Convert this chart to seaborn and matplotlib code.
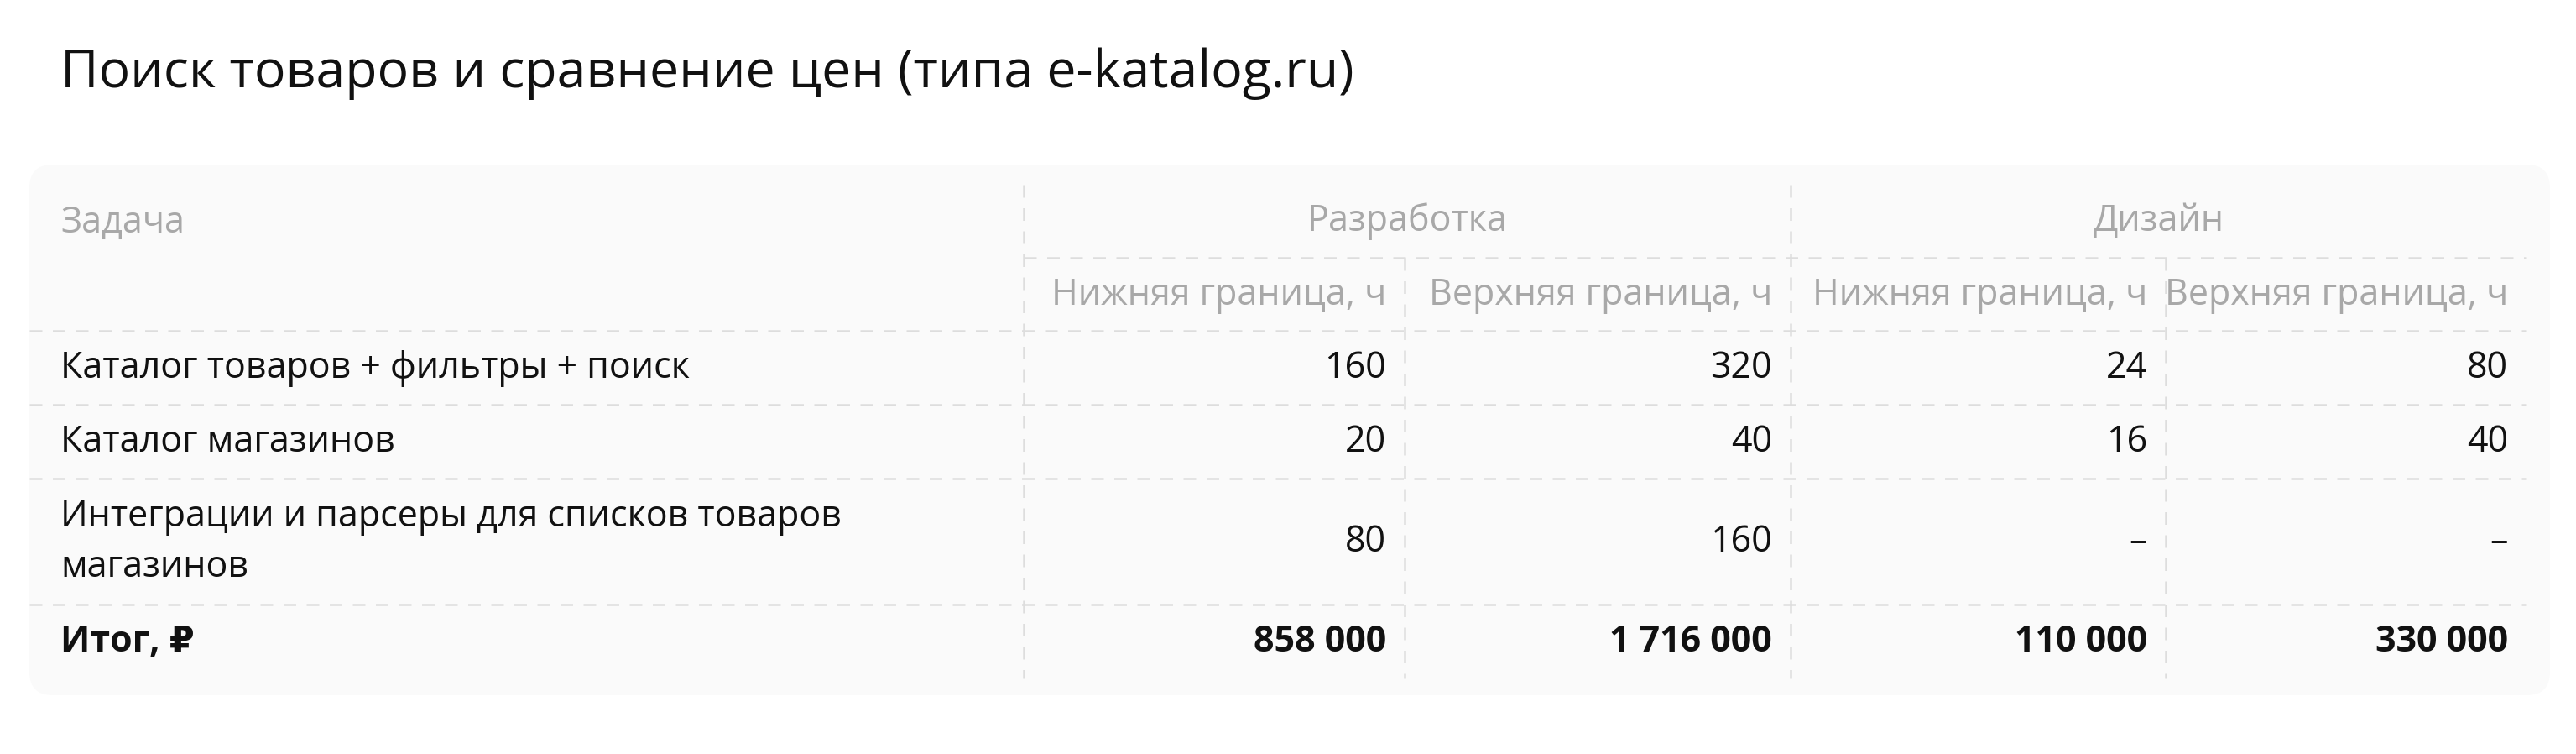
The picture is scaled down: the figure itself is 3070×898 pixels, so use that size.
import matplotlib
matplotlib.use("Agg")
import matplotlib.pyplot as plt
from matplotlib.patches import FancyBboxPatch
import seaborn as sns

title = "Поиск товаров и сравнение цен (типа e-katalog.ru)"
task_header = "Задача"
groups = ["Разработка", "Дизайн"]
subheaders = ["Нижняя граница, ч", "Верхняя граница, ч", "Нижняя граница, ч", "Верхняя граница, ч"]
tasks = ["Каталог товаров + фильтры + поиск", "Каталог магазинов",
         "Интеграции и парсеры для списков товаров\nмагазинов"]
dev_low = ["160", "20", "80"]
dev_high = ["320", "40", "160"]
des_low = ["24", "16", "–"]
des_high = ["80", "40", "–"]
total_label = "Итог, ₽"
totals = ["858 000", "1 716 000", "110 000", "330 000"]

sns.set_theme(style="white")
plt.rcParams['font.family'] = ['Open Sans', 'DejaVu Sans']

W, H = 3070, 898
fig = plt.figure(figsize=(W/100, H/100), dpi=100)
ax = fig.add_axes([0, 0, 1, 1])
ax.set_xlim(0, W); ax.set_ylim(H, 0); ax.axis("off")

ax.text(72, 88, title, fontsize=45, color="#111111", va="center", ha="left")
ax.add_patch(FancyBboxPatch((35, 196), 3004, 632, boxstyle="round,pad=0,rounding_size=28",
                            fc="#fafafa", ec="none"))

grid = dict(color="#dddddd", lw=1.8, ls=(0, (6, 5)))
cols = [1220, 1674, 2134, 2581, 3011]
ax.plot([1220, 3011], [307, 307], **grid)
for y in [394, 482, 570, 720]:
    ax.plot([35, 3011], [y, y], **grid)
for x in [1220, 2134]:
    ax.plot([x, x], [220, 808], **grid)
for x in [1674, 2581]:
    ax.plot([x, x], [307, 808], **grid)

gray = "#a8a8a8"
fs = 31
pad = 22
ax.text(72, 266, task_header, fontsize=fs, color=gray, va="center")
ax.text((1220+2134)/2, 264, groups[0], fontsize=fs, color=gray, va="center", ha="center")
ax.text((2134+3011)/2, 264, groups[1], fontsize=fs, color=gray, va="center", ha="center")
for i, s in enumerate(subheaders):
    ax.text(cols[i+1]-pad, 352, s, fontsize=fs, color=gray, va="center", ha="right")

rows_y = [439, 527, 646]
cols_vals = [dev_low, dev_high, des_low, des_high]
for r, y in enumerate(rows_y):
    ax.text(72, y, tasks[r], fontsize=fs, color="#111111", va="center", ha="left", linespacing=1.45)
    for c in range(4):
        ax.text(cols[c+1]-pad, y, cols_vals[c][r], fontsize=fs, color="#111111", va="center", ha="right")
ax.text(72, 764, total_label, fontsize=fs, color="#111111", va="center", ha="left", fontweight="bold")
for c in range(4):
    ax.text(cols[c+1]-pad, 764, totals[c], fontsize=fs, color="#111111", va="center", ha="right", fontweight="bold")

fig.savefig("out.png", dpi=100, facecolor="white")
